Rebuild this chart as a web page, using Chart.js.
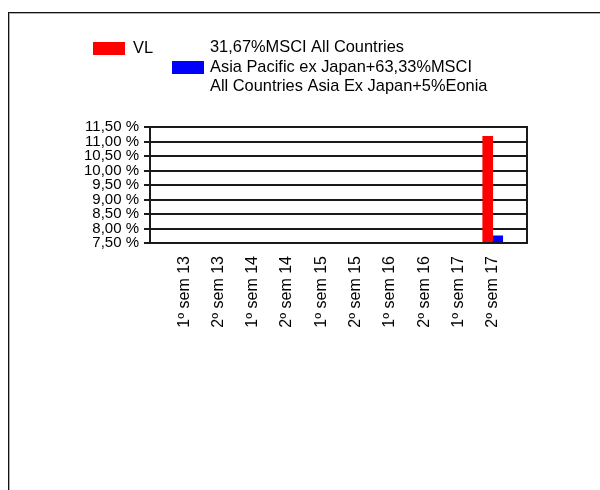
<!DOCTYPE html>
<html>
<head>
<meta charset="utf-8">
<script src="https://cdn.jsdelivr.net/npm/chart.js@4/dist/chart.umd.min.js"></script>
<style>
  html, body { margin: 0; padding: 0; background: #fff; }
  #wrap { position: relative; width: 600px; height: 490px; overflow: hidden; }
  #frame {
    position: absolute; left: 8px; top: 12px; width: 700px; height: 600px;
    border-left: 1px solid #111; border-top: 1px solid #111;
    box-shadow: inset 1px 1px 0 #b0b0b0;
  }
  #chart { position: absolute; left: 0; top: 0; }
</style>
</head>
<body>
<div id="wrap">
  <div id="frame"></div>
  <canvas id="chart" width="600" height="490"></canvas>
</div>
<script>
// Half-year periods on the category axis
const categories = ['1º sem 13', '2º sem 13', '1º sem 14', '2º sem 14', '1º sem 15',
                    '2º sem 15', '1º sem 16', '2º sem 16', '1º sem 17', '2º sem 17'];

// Fund (VL) and benchmark values, in %
const vlValues        = [null, null, null, null, null, null, null, null, null, 11.18];
const benchmarkValues = [null, null, null, null, null, null, null, null, null, 7.75];

// Series names (benchmark name is written on three lines)
const vlLabel = 'VL';
const benchmarkLabel = ['31,67%MSCI All Countries',
                        'Asia Pacific ex Japan+63,33%MSCI',
                        'All Countries Asia Ex Japan+5%Eonia'];

// Value axis range and step
const yMin = 7.5, yMax = 11.5, yStep = 0.5;

const FONT = '"Liberation Sans", Arial, sans-serif';

// One empty slot on each side of the periods
const axisLabels = [''].concat(categories, ['']);
const pad = arr => [null].concat(arr, [null]);

// Frame around the plotting area
const plotFrame = {
  id: 'plotFrame',
  afterDatasetsDraw(chart) {
    const a = chart.chartArea, ctx = chart.ctx;
    ctx.save();
    ctx.strokeStyle = '#1a1a1a';
    ctx.lineWidth = 2;
    ctx.strokeRect(a.left, a.top, a.right - a.left, a.bottom - a.top);
    ctx.restore();
  }
};

// Legend: colour box followed by the series name (single or multi-line)
const sideLegend = {
  id: 'sideLegend',
  afterDraw(chart) {
    const ctx = chart.ctx;
    const ds = chart.data.datasets;
    const items = [
      { box: [93, 42], text: [133, 48] },
      { box: [172, 61], text: [210, 67] }
    ];
    ctx.save();
    ctx.font = '16.4px ' + FONT;
    ctx.textBaseline = 'middle';
    ctx.textAlign = 'left';
    ds.forEach((d, i) => {
      const it = items[i];
      ctx.fillStyle = d.backgroundColor;
      ctx.fillRect(it.box[0], it.box[1], 32, 13);
      ctx.fillStyle = '#000';
      const lines = Array.isArray(d.label) ? d.label : [d.label];
      const lh = 19.5;
      const y0 = it.text[1] - (lines.length - 1) * lh / 2;
      lines.forEach((ln, k) => ctx.fillText(ln, it.text[0], y0 + k * lh));
    });
    ctx.restore();
  }
};

new Chart(document.getElementById('chart'), {
  type: 'bar',
  data: {
    labels: axisLabels,
    datasets: [
      { label: vlLabel, data: pad(vlValues), backgroundColor: '#ff0000', barThickness: 10 },
      { label: benchmarkLabel, data: pad(benchmarkValues), backgroundColor: '#0000ff', barThickness: 10 }
    ]
  },
  options: {
    responsive: false,
    animation: false,
    devicePixelRatio: 1,
    layout: { padding: { left: 0, top: 127, right: 73, bottom: 147 } },
    plugins: {
      legend: { display: false },
      tooltip: { enabled: false },
      title: { display: false }
    },
    scales: {
      x: {
        offset: false,
        grid: { display: false, drawTicks: false },
        border: { display: false },
        ticks: {
          autoSkip: false,
          minRotation: 90,
          maxRotation: 90,
          padding: 13,
          color: '#000',
          font: { family: FONT, size: 16 }
        },
        afterFit(scale) {
          scale.height = 100;
          scale.paddingLeft = 0;
          scale.paddingRight = 0;
        }
      },
      y: {
        min: yMin,
        max: yMax,
        grid: { color: '#1a1a1a', lineWidth: 2, tickLength: 6, drawTicks: true },
        border: { color: '#1a1a1a', width: 2 },
        ticks: {
          stepSize: yStep,
          autoSkip: false,
          padding: 5,
          color: '#000',
          font: { family: FONT, size: 15, lineHeight: 1 },
          callback: v => v.toFixed(2).replace('.', ',') + ' %'
        },
        afterFit(scale) {
          scale.width = 150;
          scale.paddingTop = 0;
          scale.paddingBottom = 0;
        }
      }
    }
  },
  plugins: [plotFrame, sideLegend]
});
</script>
</body>
</html>
